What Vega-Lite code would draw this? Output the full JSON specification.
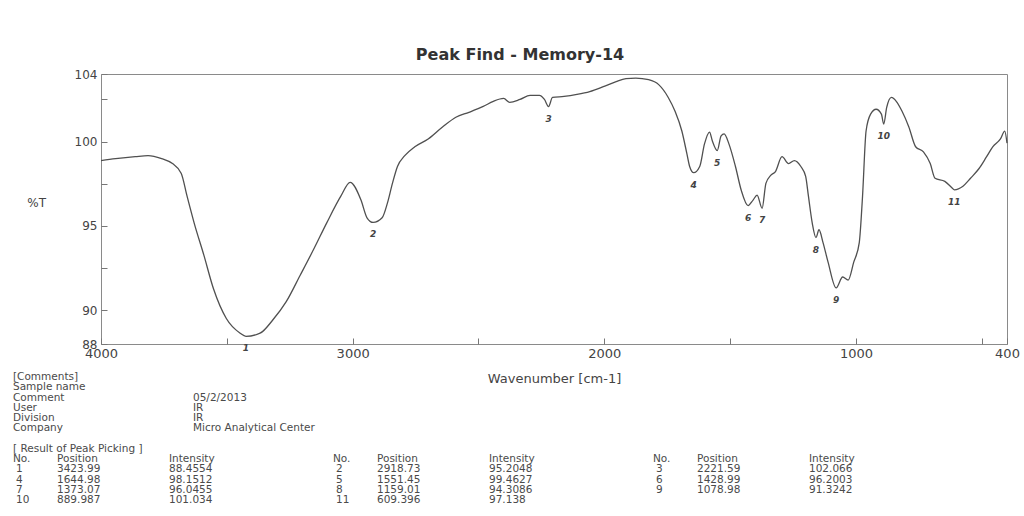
{
  "$schema": "https://vega.github.io/schema/vega-lite/v6.json",
  "background": "white",
  "padding": {"left": 13, "top": 46, "right": 0, "bottom": 0},
  "bounds": "flush",
  "title": {
    "text": "Peak Find - Memory-14",
    "fontSize": 16,
    "fontWeight": "bold",
    "color": "#333333",
    "anchor": "middle",
    "dx": -17,
    "offset": 5
  },
  "datasets": {
    "spectrum": [
      {"wavenumber": 4000, "T": 98.87},
      {"wavenumber": 3942, "T": 98.98},
      {"wavenumber": 3864, "T": 99.10},
      {"wavenumber": 3813, "T": 99.16},
      {"wavenumber": 3759, "T": 98.98},
      {"wavenumber": 3716, "T": 98.69},
      {"wavenumber": 3681, "T": 98.11},
      {"wavenumber": 3658, "T": 96.76},
      {"wavenumber": 3630, "T": 95.18},
      {"wavenumber": 3591, "T": 93.25},
      {"wavenumber": 3553, "T": 91.27},
      {"wavenumber": 3502, "T": 89.51},
      {"wavenumber": 3447, "T": 88.64},
      {"wavenumber": 3423.99, "T": 88.4554},
      {"wavenumber": 3368, "T": 88.64},
      {"wavenumber": 3316, "T": 89.45},
      {"wavenumber": 3264, "T": 90.51},
      {"wavenumber": 3208, "T": 92.09},
      {"wavenumber": 3155, "T": 93.61},
      {"wavenumber": 3103, "T": 95.18},
      {"wavenumber": 3047, "T": 96.76},
      {"wavenumber": 3010, "T": 97.58},
      {"wavenumber": 2967, "T": 96.53},
      {"wavenumber": 2943, "T": 95.48},
      {"wavenumber": 2918.73, "T": 95.2048},
      {"wavenumber": 2883, "T": 95.48},
      {"wavenumber": 2862, "T": 96.35},
      {"wavenumber": 2842, "T": 97.52},
      {"wavenumber": 2822, "T": 98.52},
      {"wavenumber": 2793, "T": 99.16},
      {"wavenumber": 2753, "T": 99.69},
      {"wavenumber": 2700, "T": 100.15},
      {"wavenumber": 2643, "T": 100.86},
      {"wavenumber": 2590, "T": 101.44},
      {"wavenumber": 2538, "T": 101.73},
      {"wavenumber": 2481, "T": 102.08},
      {"wavenumber": 2441, "T": 102.38},
      {"wavenumber": 2400, "T": 102.55},
      {"wavenumber": 2376, "T": 102.32},
      {"wavenumber": 2335, "T": 102.49},
      {"wavenumber": 2295, "T": 102.73},
      {"wavenumber": 2258, "T": 102.73},
      {"wavenumber": 2238, "T": 102.49},
      {"wavenumber": 2221.59, "T": 102.066},
      {"wavenumber": 2206, "T": 102.61},
      {"wavenumber": 2160, "T": 102.67},
      {"wavenumber": 2109, "T": 102.79},
      {"wavenumber": 2058, "T": 102.96},
      {"wavenumber": 2004, "T": 103.25},
      {"wavenumber": 1953, "T": 103.55},
      {"wavenumber": 1914, "T": 103.72},
      {"wavenumber": 1875, "T": 103.76},
      {"wavenumber": 1824, "T": 103.66},
      {"wavenumber": 1784, "T": 103.37},
      {"wavenumber": 1746, "T": 102.61},
      {"wavenumber": 1719, "T": 101.79},
      {"wavenumber": 1692, "T": 100.62},
      {"wavenumber": 1672, "T": 99.28},
      {"wavenumber": 1661, "T": 98.52},
      {"wavenumber": 1644.98, "T": 98.1512},
      {"wavenumber": 1621, "T": 98.52},
      {"wavenumber": 1602, "T": 99.86},
      {"wavenumber": 1582, "T": 100.56},
      {"wavenumber": 1571, "T": 100.04},
      {"wavenumber": 1551.45, "T": 99.4627},
      {"wavenumber": 1536, "T": 100.33},
      {"wavenumber": 1524, "T": 100.45},
      {"wavenumber": 1505, "T": 99.86},
      {"wavenumber": 1479, "T": 98.52},
      {"wavenumber": 1456, "T": 97.11},
      {"wavenumber": 1428.99, "T": 96.2003},
      {"wavenumber": 1409, "T": 96.53},
      {"wavenumber": 1393, "T": 96.82},
      {"wavenumber": 1373.07, "T": 96.0455},
      {"wavenumber": 1358, "T": 97.52},
      {"wavenumber": 1339, "T": 97.99},
      {"wavenumber": 1320, "T": 98.22},
      {"wavenumber": 1294, "T": 99.10},
      {"wavenumber": 1268, "T": 98.69},
      {"wavenumber": 1245, "T": 98.87},
      {"wavenumber": 1219, "T": 98.52},
      {"wavenumber": 1200, "T": 97.93},
      {"wavenumber": 1189, "T": 96.76},
      {"wavenumber": 1174, "T": 95.18},
      {"wavenumber": 1159.01, "T": 94.3086},
      {"wavenumber": 1147, "T": 94.77},
      {"wavenumber": 1131, "T": 94.01},
      {"wavenumber": 1111, "T": 92.85},
      {"wavenumber": 1078.98, "T": 91.3242},
      {"wavenumber": 1053, "T": 91.97},
      {"wavenumber": 1031, "T": 91.79},
      {"wavenumber": 1009, "T": 92.85},
      {"wavenumber": 987, "T": 94.01},
      {"wavenumber": 974, "T": 96.76},
      {"wavenumber": 960, "T": 100.62},
      {"wavenumber": 942, "T": 101.62},
      {"wavenumber": 920, "T": 101.91},
      {"wavenumber": 899, "T": 101.62},
      {"wavenumber": 889.987, "T": 101.034},
      {"wavenumber": 878, "T": 102.02},
      {"wavenumber": 859, "T": 102.61},
      {"wavenumber": 840, "T": 102.38},
      {"wavenumber": 817, "T": 101.79},
      {"wavenumber": 790, "T": 100.86},
      {"wavenumber": 763, "T": 99.69},
      {"wavenumber": 732, "T": 99.39},
      {"wavenumber": 705, "T": 98.69},
      {"wavenumber": 686, "T": 97.82},
      {"wavenumber": 647, "T": 97.64},
      {"wavenumber": 617, "T": 97.23},
      {"wavenumber": 609.396, "T": 97.138},
      {"wavenumber": 575, "T": 97.35},
      {"wavenumber": 545, "T": 97.82},
      {"wavenumber": 511, "T": 98.40},
      {"wavenumber": 481, "T": 99.10},
      {"wavenumber": 456, "T": 99.69},
      {"wavenumber": 426, "T": 100.15},
      {"wavenumber": 409, "T": 100.62},
      {"wavenumber": 400, "T": 99.9}
    ],
    "peaks": [
      {"no": 1, "position": 3423.99, "intensity": 88.4554},
      {"no": 2, "position": 2918.73, "intensity": 95.2048},
      {"no": 3, "position": 2221.59, "intensity": 102.066},
      {"no": 4, "position": 1644.98, "intensity": 98.1512},
      {"no": 5, "position": 1551.45, "intensity": 99.4627},
      {"no": 6, "position": 1428.99, "intensity": 96.2003},
      {"no": 7, "position": 1373.07, "intensity": 96.0455},
      {"no": 8, "position": 1159.01, "intensity": 94.3086},
      {"no": 9, "position": 1078.98, "intensity": 91.3242},
      {"no": 10, "position": 889.987, "intensity": 101.034},
      {"no": 11, "position": 609.396, "intensity": 97.138}
    ],
    "comments": [
      {"label": "[Comments]", "value": ""},
      {"label": "Sample name", "value": ""},
      {"label": "Comment", "value": "05/2/2013"},
      {"label": "User", "value": "IR"},
      {"label": "Division", "value": "IR"},
      {"label": "Company", "value": "Micro Analytical Center"},
      {"label": "[ Result of Peak Picking ]", "value": ""}
    ],
    "groups": [{"grp": 1}, {"grp": 2}, {"grp": 3}]
  },
  "spacing": 33,
  "vconcat": [
    {
      "width": 906,
      "height": 270,
      "view": {"stroke": "#8a8a8a", "strokeWidth": 1},
      "resolve": {"axis": {"x": "independent", "y": "independent"}},
      "layer": [
        {
          "data": {"name": "spectrum"},
          "mark": {"type": "line", "interpolate": "monotone", "color": "#505050", "strokeWidth": 1.3},
          "encoding": {
            "x": {
              "field": "wavenumber",
              "type": "quantitative",
              "scale": {"domain": [400, 4000], "reverse": true, "nice": false, "zero": false},
              "axis": {
                "orient": "bottom",
                "title": null,
                "labels": false,
                "values": [4000, 3500, 3000, 2500, 2000, 1500, 1000, 500, 400],
                "grid": false,
                "domain": false,
                "offset": -6,
                "tickSize": 6,
                "tickColor": "#777777"
              }
            },
            "y": {
              "field": "T",
              "type": "quantitative",
              "scale": {"domain": [88, 104], "nice": false, "zero": false},
              "axis": {
                "orient": "left",
                "title": null,
                "labels": false,
                "values": [88, 90, 92.5, 95, 97.5, 100, 102.5, 104],
                "grid": false,
                "domain": false,
                "offset": -6,
                "tickSize": 6,
                "tickColor": "#777777"
              }
            }
          }
        },
        {
          "data": {"name": "peaks"},
          "mark": {"type": "text", "dy": 12, "fontSize": 9, "fontStyle": "italic", "fontWeight": "bold", "color": "#444444"},
          "encoding": {
            "x": {
              "field": "position",
              "type": "quantitative",
              "axis": {
                "orient": "bottom",
                "title": "Wavenumber [cm-1]",
                "values": [4000, 3000, 2000, 1000, 400],
                "format": "d",
                "grid": false,
                "domain": false,
                "ticks": false,
                "labelFontSize": 13,
                "labelColor": "#444444",
                "labelPadding": 3,
                "labelOverlap": false,
                "labelFlush": false,
                "titleFontSize": 13,
                "titleFontWeight": "normal",
                "titleColor": "#444444",
                "titlePadding": 12
              }
            },
            "y": {
              "field": "intensity",
              "type": "quantitative",
              "axis": {
                "orient": "left",
                "title": "%T",
                "titleAngle": 0,
                "titleFontSize": 12,
                "titleFontWeight": "normal",
                "titleColor": "#444444",
                "titlePadding": 38,
                "values": [88, 90, 95, 100, 104],
                "grid": false,
                "domain": false,
                "ticks": false,
                "labelFontSize": 12,
                "labelColor": "#444444",
                "labelPadding": 4,
                "labelOverlap": false
              }
            },
            "text": {"field": "no", "type": "quantitative"}
          }
        }
      ]
    },
    {
      "width": 960,
      "height": 123,
      "view": {"stroke": null},
      "layer": [
        {
          "data": {"name": "comments"},
          "mark": {"type": "text", "align": "left", "baseline": "middle", "fontSize": 10.5, "color": "#4a4a4a", "dx": -88},
          "encoding": {
            "x": {"datum": 1, "type": "ordinal", "bandPosition": 0, "scale": {"type": "band", "domain": [1, 2, 3], "paddingInner": 0, "paddingOuter": 0}, "axis": null},
            "y": {
              "field": "label",
              "type": "nominal",
              "scale": {
                "type": "point",
                "padding": 0,
                "domain": ["[Comments]", "Sample name", "Comment", "User", "Division", "Company", "gap", "[ Result of Peak Picking ]", "header", "row 1", "row 2", "row 3", "row 4"]
              },
              "axis": null
            },
            "text": {"field": "label"}
          }
        },
        {
          "data": {"name": "comments"},
          "mark": {"type": "text", "align": "left", "baseline": "middle", "fontSize": 10.5, "color": "#4a4a4a", "dx": 92},
          "encoding": {
            "x": {"datum": 1, "type": "ordinal", "bandPosition": 0},
            "y": {"field": "label", "type": "nominal"},
            "text": {"field": "value"}
          }
        },
        {
          "data": {"name": "groups"},
          "mark": {"type": "text", "align": "left", "baseline": "middle", "fontSize": 10.5, "color": "#4a4a4a", "dx": -88, "text": "No."},
          "encoding": {
            "x": {"field": "grp", "type": "ordinal", "bandPosition": 0},
            "y": {"datum": "header", "type": "nominal"}
          }
        },
        {
          "data": {"name": "groups"},
          "mark": {"type": "text", "align": "left", "baseline": "middle", "fontSize": 10.5, "color": "#4a4a4a", "dx": -44, "text": "Position"},
          "encoding": {
            "x": {"field": "grp", "type": "ordinal", "bandPosition": 0},
            "y": {"datum": "header", "type": "nominal"}
          }
        },
        {
          "data": {"name": "groups"},
          "mark": {"type": "text", "align": "left", "baseline": "middle", "fontSize": 10.5, "color": "#4a4a4a", "dx": 68, "text": "Intensity"},
          "encoding": {
            "x": {"field": "grp", "type": "ordinal", "bandPosition": 0},
            "y": {"datum": "header", "type": "nominal"}
          }
        },
        {
          "data": {"name": "peaks"},
          "transform": [
            {"calculate": "((datum.no - 1) % 3) + 1", "as": "grp"},
            {"calculate": "'row ' + ceil(datum.no / 3)", "as": "line"}
          ],
          "mark": {"type": "text", "align": "left", "baseline": "middle", "fontSize": 10.5, "color": "#4a4a4a", "dx": -85},
          "encoding": {
            "x": {"field": "grp", "type": "ordinal", "bandPosition": 0},
            "y": {"field": "line", "type": "nominal"},
            "text": {"field": "no", "type": "quantitative", "format": "d"}
          }
        },
        {
          "data": {"name": "peaks"},
          "transform": [
            {"calculate": "((datum.no - 1) % 3) + 1", "as": "grp"},
            {"calculate": "'row ' + ceil(datum.no / 3)", "as": "line"}
          ],
          "mark": {"type": "text", "align": "left", "baseline": "middle", "fontSize": 10.5, "color": "#4a4a4a", "dx": -44},
          "encoding": {
            "x": {"field": "grp", "type": "ordinal", "bandPosition": 0},
            "y": {"field": "line", "type": "nominal"},
            "text": {"field": "position", "type": "quantitative", "format": ".6~r"}
          }
        },
        {
          "data": {"name": "peaks"},
          "transform": [
            {"calculate": "((datum.no - 1) % 3) + 1", "as": "grp"},
            {"calculate": "'row ' + ceil(datum.no / 3)", "as": "line"}
          ],
          "mark": {"type": "text", "align": "left", "baseline": "middle", "fontSize": 10.5, "color": "#4a4a4a", "dx": 68},
          "encoding": {
            "x": {"field": "grp", "type": "ordinal", "bandPosition": 0},
            "y": {"field": "line", "type": "nominal"},
            "text": {"field": "intensity", "type": "quantitative", "format": ".6~r"}
          }
        }
      ]
    }
  ],
  "config": {
    "font": "DejaVu Sans",
    "view": {"stroke": null}
  }
}
